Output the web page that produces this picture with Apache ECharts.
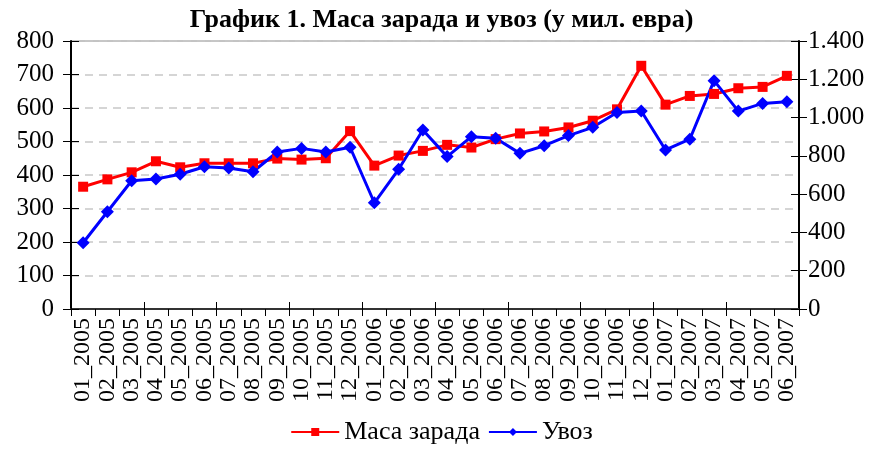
<!DOCTYPE html>
<html>
<head>
<meta charset="utf-8">
<script src="https://cdn.jsdelivr.net/npm/echarts@6/dist/echarts.min.js"></script>
<style>
  html, body { margin: 0; padding: 0; background: #fff; }
  #chart { width: 883px; height: 450px; }
</style>
</head>
<body>
<div id="chart"></div>
<script>
// месеци
const months = [
  '01_2005', '02_2005', '03_2005', '04_2005', '05_2005', '06_2005',
  '07_2005', '08_2005', '09_2005', '10_2005', '11_2005', '12_2005',
  '01_2006', '02_2006', '03_2006', '04_2006', '05_2006', '06_2006',
  '07_2006', '08_2006', '09_2006', '10_2006', '11_2006', '12_2006',
  '01_2007', '02_2007', '03_2007', '04_2007', '05_2007', '06_2007'
];

// Маса зарада (лева оса)
const wages = [
  365, 387, 408, 441, 423, 435, 435, 435, 449, 446, 450, 531,
  428, 458, 472, 490, 482, 507, 524, 530, 542, 562, 596, 726,
  610, 636, 642, 659, 663, 696
];

// Увоз (десна оса)
const imports = [
  346, 508, 670, 679, 704, 743, 737, 717, 820, 839, 820, 845,
  555, 730, 935, 796, 900, 892, 813, 853, 906, 949, 1027, 1034,
  831, 887, 1193, 1034, 1074, 1083
];

const serif = '"Liberation Serif", "DejaVu Serif", serif';

// формат 1.400
const thousands = v => String(v).replace(/\B(?=(\d{3})+(?!\d))/g, '.');

// помоћне осе само за цртице са унутрашње стране
const tickOnlyY = (min, max, interval, position) => ({
  type: 'value', min, max, interval, position,
  axisLine: { show: false },
  axisTick: { show: true, inside: true, length: 8, lineStyle: { color: '#000' } },
  axisLabel: { show: false },
  splitLine: { show: false }
});

const chart = echarts.init(document.getElementById('chart'));
chart.setOption({
  animation: false,
  title: {
    text: 'График 1. Маса зарада и увоз (у мил. евра)',
    left: 'center',
    top: 2,
    textStyle: { fontFamily: serif, fontSize: 26, fontWeight: 'bold', color: '#000' }
  },
  legend: {
    bottom: 0,
    left: 'center',
    itemWidth: 48,
    itemHeight: 10,
    itemGap: 8,
    textStyle: { fontFamily: serif, fontSize: 26, color: '#000' },
    data: ['Маса зарада', 'Увоз']
  },
  grid: {
    left: 71,
    right: 84,
    top: 41,
    bottom: 141,
    show: true,
    borderColor: '#888',
    borderWidth: 1
  },
  xAxis: [
    {
      type: 'category',
      data: months,
      boundaryGap: true,
      axisLine: { lineStyle: { color: '#333', width: 2 } },
      axisTick: { show: true, length: 7, lineStyle: { color: '#000' } },
      axisLabel: {
        rotate: 90,
        interval: 0,
        margin: 9,
        fontFamily: serif,
        fontSize: 24,
        color: '#000'
      }
    },
    {
      type: 'category',
      data: months,
      position: 'bottom',
      boundaryGap: true,
      axisLine: { show: false },
      axisTick: { show: true, inside: true, length: 7, lineStyle: { color: '#000' } },
      axisLabel: { show: false }
    }
  ],
  yAxis: [
    {
      type: 'value',
      min: 0,
      max: 800,
      interval: 100,
      axisLine: { show: true, lineStyle: { color: '#000', width: 2 } },
      axisTick: { show: true, length: 8, lineStyle: { color: '#000' } },
      axisLabel: { fontFamily: serif, fontSize: 25, color: '#000', margin: 17 },
      splitLine: { show: true, lineStyle: { color: '#c8c8c8', type: [8, 6], width: 1.5 } }
    },
    {
      type: 'value',
      min: 0,
      max: 1400,
      interval: 200,
      position: 'right',
      axisLine: { show: true, lineStyle: { color: '#000', width: 2 } },
      axisTick: { show: true, length: 8, lineStyle: { color: '#000' } },
      axisLabel: {
        fontFamily: serif,
        fontSize: 25,
        color: '#000',
        margin: 9,
        formatter: thousands
      },
      splitLine: { show: false }
    },
    tickOnlyY(0, 800, 100, 'left'),
    tickOnlyY(0, 1400, 200, 'right')
  ],
  series: [
    {
      name: 'Маса зарада',
      type: 'line',
      yAxisIndex: 0,
      data: wages,
      symbol: 'rect',
      symbolSize: 10,
      lineStyle: { color: '#ff0000', width: 3 },
      itemStyle: { color: '#ff0000' }
    },
    {
      name: 'Увоз',
      type: 'line',
      yAxisIndex: 1,
      data: imports,
      symbol: 'diamond',
      symbolSize: 13,
      lineStyle: { color: '#0000ff', width: 3 },
      itemStyle: { color: '#0000ff' }
    }
  ]
});
</script>
</body>
</html>
